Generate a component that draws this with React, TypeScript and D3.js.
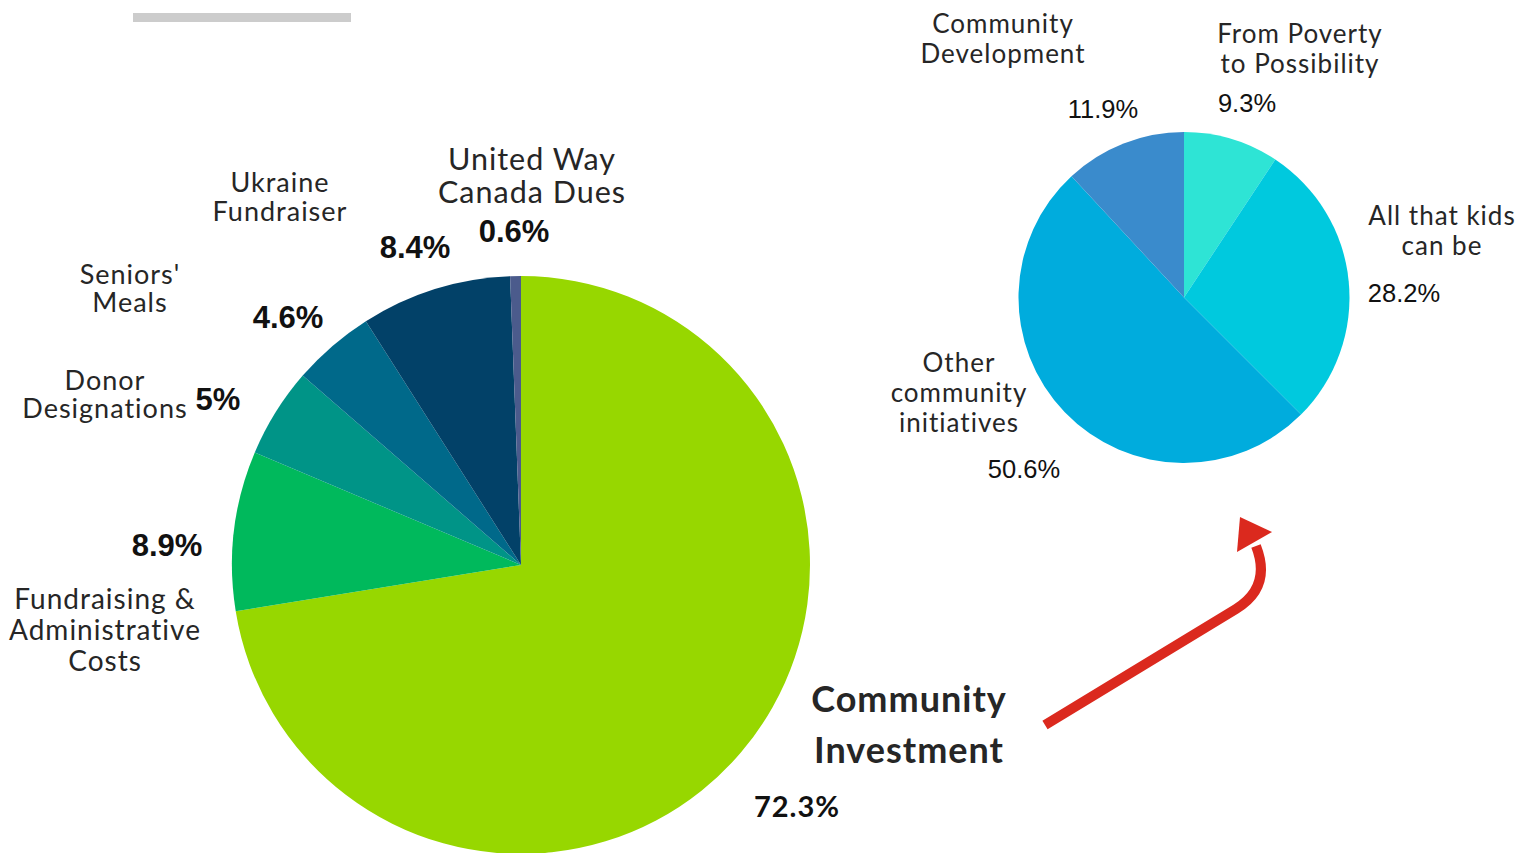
import * as d3 from 'd3';

// big pie: where the money goes
const mainNames = [
  'Community Investment',
  'Fundraising & Administrative Costs',
  'Donor Designations',
  "Seniors' Meals",
  'Ukraine Fundraiser',
  'United Way Canada Dues',
];
const mainValues = [72.3, 8.9, 5, 4.6, 8.4, 0.6];
const mainPct = ['72.3%', '8.9%', '5%', '4.6%', '8.4%', '0.6%'];
const mainColors = ['#97d700', '#00b95c', '#009487', '#00698a', '#024168', '#4b5b8c'];

// small pie: community investment breakdown
const subNames = ['From Poverty to Possibility', 'All that kids can be', 'Other community initiatives', 'Community Development'];
const subValues = [9.3, 28.2, 50.6, 11.9];
const subPct = ['9.3%', '28.2%', '50.6%', '11.9%'];
const subColors = ['#2ee4d5', '#00c9de', '#00acdd', '#3a8bcc'];

const LABEL_FONT = 'Lato, "Noto Sans", sans-serif';
const PCT_FONT = '"Liberation Sans", Arial, sans-serif';
const INK = '#262626';

type Lbl = { lines: string[]; x: number; y: number; size: number; gap: number; weight?: number };

// label placement for each slice (name lines + percentage)
const mainLabels: Lbl[] = [
  { lines: ['Community', 'Investment'], x: 909, y: 712, size: 36, gap: 51, weight: 700 },
  { lines: ['Fundraising &', 'Administrative', 'Costs'], x: 105, y: 609, size: 28, gap: 31 },
  { lines: ['Donor', 'Designations'], x: 105, y: 390, size: 27, gap: 28 },
  { lines: ["Seniors'", 'Meals'], x: 130, y: 284, size: 27, gap: 28 },
  { lines: ['Ukraine', 'Fundraiser'], x: 280, y: 192, size: 27, gap: 29 },
  { lines: ['United Way', 'Canada Dues'], x: 532, y: 170, size: 30.5, gap: 33 },
];
const mainPctPos = [
  { x: 797, y: 817 },
  { x: 167, y: 556 },
  { x: 218, y: 410 },
  { x: 288, y: 328 },
  { x: 415, y: 258 },
  { x: 514, y: 242 },
];
const subLabels: Lbl[] = [
  { lines: ['From Poverty', 'to Possibility'], x: 1300, y: 43, size: 26, gap: 30 },
  { lines: ['All that kids', 'can be'], x: 1442, y: 225, size: 26, gap: 30 },
  { lines: ['Other', 'community', 'initiatives'], x: 959, y: 372, size: 26, gap: 30 },
  { lines: ['Community', 'Development'], x: 1003, y: 33, size: 26, gap: 30 },
];
const subPctPos = [
  { x: 1247, y: 112 },
  { x: 1404, y: 302 },
  { x: 1024, y: 478 },
  { x: 1103, y: 118 },
];

function Label({ l }: { l: Lbl }) {
  return (
    <g>
      {l.lines.map((s, i) => (
        <text
          key={i}
          x={l.x}
          y={l.y + i * l.gap}
          textAnchor="middle"
          fontFamily={LABEL_FONT}
          fontSize={l.size}
          fontWeight={l.weight ?? 400}
          letterSpacing={1}
          fill={INK}
        >
          {s}
        </text>
      ))}
    </g>
  );
}

export default function App() {
  const width = 1520;
  const height = 853;

  const pie = d3.pie<number>().sort(null).value((d) => d);
  const mainArcs = pie(mainValues);
  const subArcs = pie(subValues);
  const bigArc = d3.arc<d3.PieArcDatum<number>>().innerRadius(0).outerRadius(289);
  const smallArc = d3.arc<d3.PieArcDatum<number>>().innerRadius(0).outerRadius(165.5);

  const arrow = d3.path();
  arrow.moveTo(1045, 725);
  arrow.lineTo(1236, 609);
  arrow.quadraticCurveTo(1272, 587, 1256, 546);

  return (
    <svg width={width} height={height} style={{ position: 'absolute', left: 0, top: 0 }}>
      <rect x={133} y={13} width={218} height={9} fill="#cccccc" />

      <g transform="translate(521,565)">
        {mainArcs.map((a, i) => (
          <path key={mainNames[i]} d={bigArc(a) ?? ''} fill={mainColors[i]} />
        ))}
      </g>
      <g transform="translate(1184,297.5)">
        {subArcs.map((a, i) => (
          <path key={subNames[i]} d={smallArc(a) ?? ''} fill={subColors[i]} />
        ))}
      </g>

      {mainLabels.map((l, i) => (
        <Label key={i} l={l} />
      ))}
      {mainPctPos.map((p, i) => (
        <text
          key={i}
          x={p.x}
          y={p.y}
          textAnchor="middle"
          fontFamily={i === 0 ? LABEL_FONT : PCT_FONT}
          fontWeight={700}
          fontSize={i === 0 ? 29 : 31}
          letterSpacing={i === 0 ? 1 : 0}
          fill="#111"
        >
          {mainPct[i]}
        </text>
      ))}

      {subLabels.map((l, i) => (
        <Label key={i} l={l} />
      ))}
      {subPctPos.map((p, i) => (
        <text key={i} x={p.x} y={p.y} textAnchor="middle" fontFamily={PCT_FONT} fontSize={25.5} fill="#111">
          {subPct[i]}
        </text>
      ))}

      <path d={arrow.toString()} fill="none" stroke="#db291e" strokeWidth={10} />
      <polygon points="1240,517 1272,532 1237,552" fill="#db291e" />
    </svg>
  );
}
